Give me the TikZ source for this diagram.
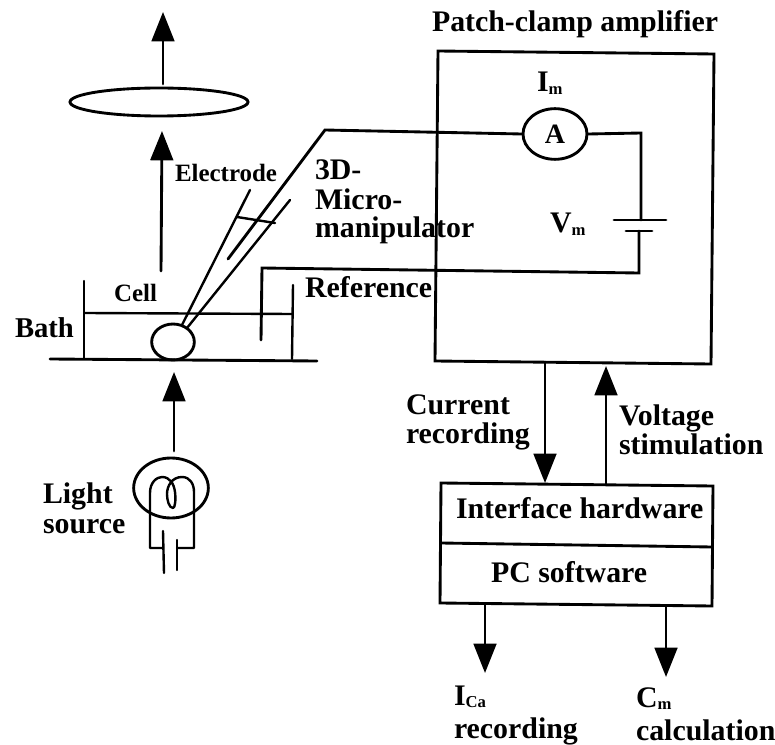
\documentclass[tikz,border=0pt]{standalone}
\usepackage{fontspec}
\setmainfont{Liberation Serif}
\usetikzlibrary{arrows.meta,shapes.geometric}
\tikzset{
  x=0.75pt,y=-0.75pt,
  wire/.style={line width=2.15pt,line cap=round,line join=miter,black},
  thin wire/.style={line width=1.8pt,line cap=round,black},
  flow/.style={wire,-{Triangle[length=22pt,width=17pt]}},
  lbl/.style={anchor=base west,inner sep=0pt,outer sep=0pt,font=\fontsize{22.4}{24}\selectfont\bfseries},
  small lbl/.style={anchor=base west,inner sep=0pt,outer sep=0pt,font=\fontsize{18.7}{22}\selectfont\bfseries},
}
\newcommand{\subm}[1]{\smash{\raisebox{-2pt}{\fontsize{12.5}{14}\selectfont\bfseries #1}}}
\begin{document}
\begin{tikzpicture}
\useasboundingbox[fill=white] (0,0) rectangle (775,745);
% coordinates: optics
\coordinate (lensTop) at (163,84);
\coordinate (lensTip) at (163,12);
\coordinate (cellTop) at (161,271);
\coordinate (objTip) at (162,131);
\coordinate (bulbTop) at (174,451);
\coordinate (stageTip) at (174,372);
% lens
\node[ellipse,draw,wire,minimum width=133.5pt,minimum height=21pt,inner sep=0pt] (lens) at (159,102) {};
\draw[flow] (lensTop) -- (lensTip);
\draw[flow] (cellTop) -- (objTip);
% bath
\coordinate (floorL) at (50,359);
\coordinate (floorR) at (317,361);
\coordinate (wallLT) at (84,281);
\coordinate (wallLB) at (84,358);
\coordinate (wallRT) at (293,285);
\coordinate (wallRB) at (292,359);
\coordinate (waterL) at (85,313);
\coordinate (waterR) at (292,314);
\draw[wire] (floorL) -- (floorR);
\draw[thin wire] (wallLT) -- (wallLB);
\draw[thin wire] (wallRT) -- (wallRB);
\draw[thin wire] (waterL) -- (waterR);
\node[ellipse,draw,wire,minimum width=32pt,minimum height=27pt,inner sep=0pt] (cell) at (173,342) {};
% electrode
\coordinate (elA) at (250,190);
\coordinate (elB) at (290,200);
\coordinate (tipA) at (182,325);
\coordinate (tipB) at (187,328);
\coordinate (barA) at (237,217);
\coordinate (barB) at (275,223);
\coordinate (wireEnd) at (228,259);
\coordinate (bend) at (325,130);
\draw[thin wire] (elA) -- (tipA);
\draw[thin wire] (elB) -- (tipB);
\draw[thin wire] (barA) -- (barB);
% amplifier
\coordinate (ampA) at (438,51);
\coordinate (ampB) at (714,54);
\coordinate (ampC) at (711,364);
\coordinate (ampD) at (435,361);
\draw[wire] (ampA) -- (ampB) -- (ampC) -- (ampD) -- cycle;
\node[ellipse,draw,wire,minimum width=48pt,minimum height=38pt,inner sep=0pt,font=\fontsize{21}{24}\selectfont\bfseries] (ammeter) at (555,134) {A};
\coordinate (corner) at (641,133);
\coordinate (plusW) at (641,220);
\coordinate (plusL) at (614,220);
\coordinate (plusR) at (666,220);
\coordinate (minusL) at (626,231);
\coordinate (minusR) at (652,231);
\coordinate (minusW) at (639,231);
\coordinate (refCorner) at (639,273);
\coordinate (refBend) at (262,268);
\coordinate (refEnd) at (261,340);
\draw[wire] (ammeter.west) -- (bend) -- (wireEnd);
\draw[wire] (ammeter.east) -- (corner) -- (plusW);
\draw[wire] (plusL) -- (plusR);
\draw[wire] (minusL) -- (minusR);
\draw[wire] (minusW) -- (refCorner) -- (refBend) -- (refEnd);
% interface box
\coordinate (ifA) at (441,483);
\coordinate (ifB) at (713,486);
\coordinate (ifC) at (712,606);
\coordinate (ifD) at (440,603);
\coordinate (divL) at (441,543);
\coordinate (divR) at (712,547);
\draw[wire] (ifA) -- (ifB) -- (ifC) -- (ifD) -- cycle;
\draw[wire] (divL) -- (divR);
% arrows
\coordinate (curS) at (545,362);
\coordinate (curT) at (545,483);
\coordinate (volS) at (606,484);
\coordinate (volT) at (606,366);
\coordinate (icaS) at (485,604);
\coordinate (icaT) at (485,673);
\coordinate (cmS) at (666,606);
\coordinate (cmT) at (666,677);
\draw[flow] (curS) -- (curT);
\draw[flow] (volS) -- (volT);
\draw[flow] (icaS) -- (icaT);
\draw[flow] (cmS) -- (cmT);
\draw[flow] (bulbTop) -- (stageTip);
% bulb
\node[ellipse,draw,wire,minimum width=56pt,minimum height=45pt,inner sep=0pt] (bulb) at (171,488) {};
\coordinate (baseL) at (150,548);
\coordinate (baseR) at (194,548);
\coordinate (leadL) at (163,531);
\coordinate (leadLb) at (164,573);
\coordinate (leadR) at (177,540);
\coordinate (leadRb) at (177,570);
\draw[wire,line width=1.8pt,line join=round] (leadL|-baseL) -- (baseL) -- (150,493)
  .. controls (150,482) and (157,477) .. (162,477)
  .. controls (170,477) and (174,484) .. (175,492)
  .. controls (176,500) and (175,508) .. (173,508)
  .. controls (169,508) and (167,500) .. (167,494)
  .. controls (167,486) and (172,477) .. (182,477)
  .. controls (190,477) and (194,484) .. (194,492) -- (baseR) -- (leadR|-baseR);
\draw[thin wire] (leadL) -- (leadLb);
\draw[thin wire] (leadR) -- (leadRb);
% labels
\node[lbl] (tAmp) at (432,32) {Patch-clamp amplifier};
\node[lbl] (tIm) at (537,92) {I\subm{m}};
\node[lbl] (tVm) at (550,233) {V\subm{m}};
\node[small lbl] (tEl) at (175,182) {Electrode};
\node[lbl] (t3d) at (315,180) {3D-};
\node[lbl] (tMi) at (315,210) {Micro-};
\node[lbl] (tMa) at (315,238) {manipulator};
\node[small lbl] (tCell) at (114,302) {Cell};
\node[lbl] (tRef) at (305,298) {Reference};
\node[lbl,font=\fontsize{21.5}{24}\selectfont\bfseries] (tBath) at (15,338) {Bath};
\node[lbl] (tLi) at (43,503) {Light};
\node[lbl] (tSo) at (43,533) {source};
\node[lbl] (tCu) at (406,415) {Current};
\node[lbl] (tRe) at (406,443) {recording};
\node[lbl] (tVo) at (619,426) {Voltage};
\node[lbl] (tSt) at (619,455) {stimulation};
\node[lbl] (tIf) at (456,518) {Interface hardware};
\node[lbl] (tPc) at (491,582) {PC software};
\node[lbl] (tIca) at (454,705) {I\subm{Ca}};
\node[lbl] (tRc) at (454,738) {recording};
\node[lbl] (tCm) at (636,707) {C\subm{m}};
\node[lbl] (tCa) at (636,740) {calculation};
\end{tikzpicture}
\end{document}
